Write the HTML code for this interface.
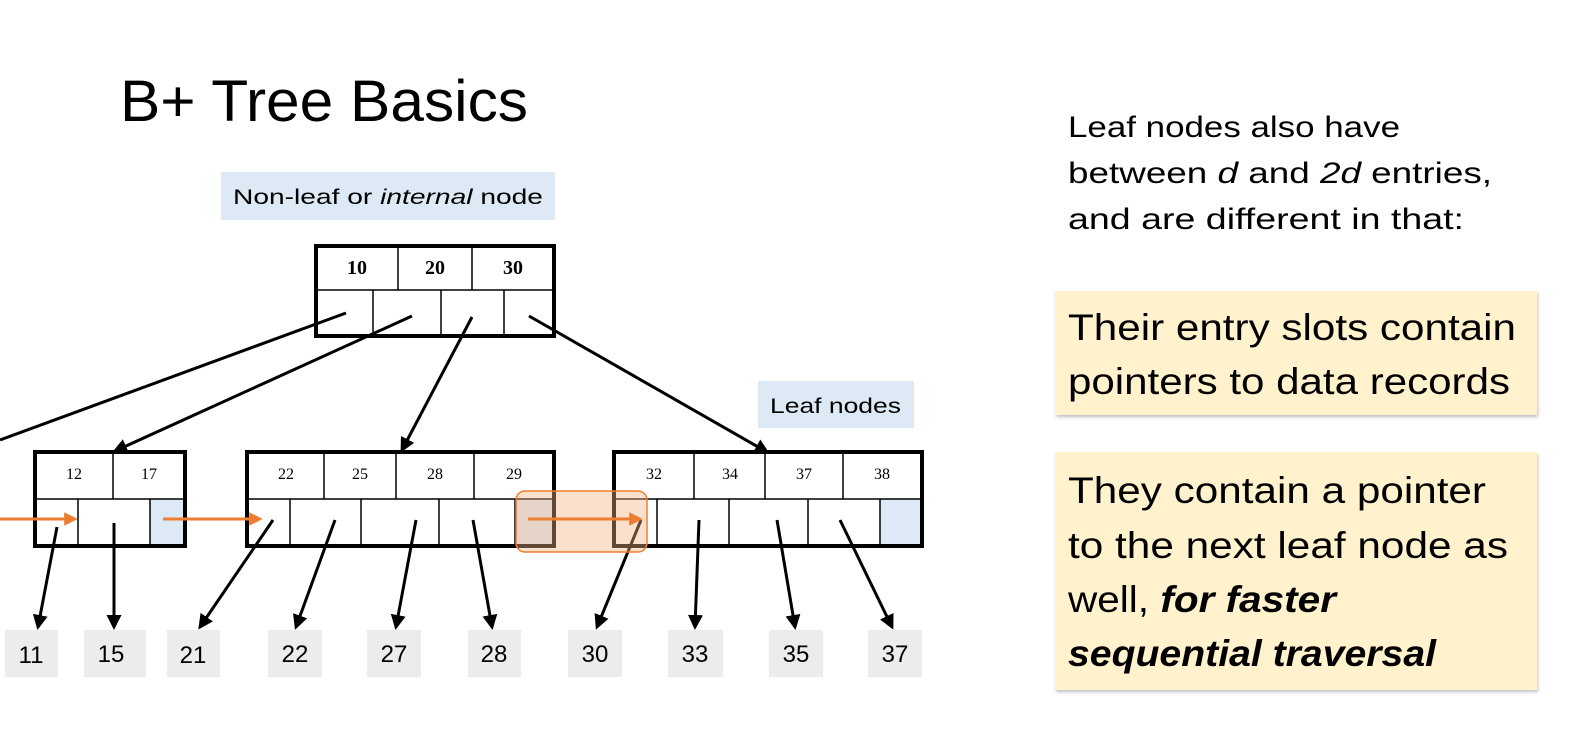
<!DOCTYPE html>
<html><head><meta charset="utf-8"><style>
html,body{margin:0;padding:0;background:#fff;}
svg{display:block;}
</style></head><body>
<svg width="1576" height="756" viewBox="0 0 1576 756" xmlns="http://www.w3.org/2000/svg">
<defs>
<marker id="ah" viewBox="0 0 10 10" refX="8" refY="5" markerWidth="5" markerHeight="5" orient="auto"><path d="M0,0 L10,5 L0,10 z" fill="#000"/></marker>
<marker id="oh" viewBox="0 0 10 10" refX="8" refY="5" markerWidth="4.5" markerHeight="4.5" orient="auto"><path d="M0,0 L10,5 L0,10 z" fill="#ed7d31"/></marker>
<filter id="sh" x="-5%" y="-5%" width="110%" height="115%"><feDropShadow dx="1" dy="2" stdDeviation="1.5" flood-color="#000" flood-opacity="0.25"/></filter>
</defs>
<text x="120" y="121" font-family="Liberation Sans, sans-serif" font-size="58" textLength="408" lengthAdjust="spacingAndGlyphs">B+ Tree Basics</text>

<rect x="221" y="172" width="334" height="48" fill="#dde9f5"/>
<text x="233" y="204" font-family="Liberation Sans, sans-serif" font-size="21" textLength="310" lengthAdjust="spacingAndGlyphs">Non-leaf or <tspan font-style="italic">internal</tspan> node</text>
<rect x="758" y="381" width="156" height="47" fill="#dde9f5"/>
<text x="770" y="413" font-family="Liberation Sans, sans-serif" font-size="21" textLength="131" lengthAdjust="spacingAndGlyphs">Leaf nodes</text>

<g stroke="#000" fill="none">
<!-- root -->
<rect x="316" y="246" width="238" height="90" stroke-width="4" fill="#fff"/>
<line x1="316" y1="290" x2="554" y2="290" stroke-width="1.5"/>
<line x1="398" y1="246" x2="398" y2="290" stroke-width="1.5"/>
<line x1="472" y1="246" x2="472" y2="290" stroke-width="1.5"/>
<line x1="373" y1="290" x2="373" y2="336" stroke-width="1.5"/>
<line x1="441" y1="290" x2="441" y2="336" stroke-width="1.5"/>
<line x1="504" y1="290" x2="504" y2="336" stroke-width="1.5"/>
</g>
<g font-family="Liberation Serif, serif" font-size="20" font-weight="bold" text-anchor="middle">
<text x="357" y="274">10</text><text x="435" y="274">20</text><text x="513" y="274">30</text>
</g>

<!-- leaf 1 -->
<rect x="150" y="499" width="35" height="47" fill="#dde9f5"/>
<rect x="515" y="499" width="39" height="47" fill="#dde9f5"/>
<rect x="880" y="499" width="42" height="47" fill="#dde9f5"/>
<g stroke="#000" fill="none">
<rect x="35" y="452" width="150" height="94" stroke-width="4"/>
<line x1="35" y1="499" x2="185" y2="499" stroke-width="1.5"/>
<line x1="113" y1="452" x2="113" y2="499" stroke-width="1.5"/>
<line x1="78" y1="499" x2="78" y2="546" stroke-width="1.5"/>
<line x1="150" y1="499" x2="150" y2="546" stroke-width="1.5"/>
<rect x="247" y="452" width="307" height="94" stroke-width="4"/>
<line x1="247" y1="499" x2="554" y2="499" stroke-width="1.5"/>
<line x1="324" y1="452" x2="324" y2="499" stroke-width="1.5"/>
<line x1="396" y1="452" x2="396" y2="499" stroke-width="1.5"/>
<line x1="474" y1="452" x2="474" y2="499" stroke-width="1.5"/>
<line x1="290" y1="499" x2="290" y2="546" stroke-width="1.5"/>
<line x1="361" y1="499" x2="361" y2="546" stroke-width="1.5"/>
<line x1="439" y1="499" x2="439" y2="546" stroke-width="1.5"/>
<line x1="515" y1="499" x2="515" y2="546" stroke-width="1.5"/>
<rect x="614" y="452" width="308" height="94" stroke-width="4"/>
<line x1="614" y1="499" x2="922" y2="499" stroke-width="1.5"/>
<line x1="694" y1="452" x2="694" y2="499" stroke-width="1.5"/>
<line x1="765" y1="452" x2="765" y2="499" stroke-width="1.5"/>
<line x1="843" y1="452" x2="843" y2="499" stroke-width="1.5"/>
<line x1="657" y1="499" x2="657" y2="546" stroke-width="1.5"/>
<line x1="729" y1="499" x2="729" y2="546" stroke-width="1.5"/>
<line x1="808" y1="499" x2="808" y2="546" stroke-width="1.5"/>
<line x1="880" y1="499" x2="880" y2="546" stroke-width="1.5"/>
</g>
<g font-family="Liberation Serif, serif" font-size="16" text-anchor="middle">
<text x="74" y="479">12</text><text x="149" y="479">17</text>
<text x="286" y="479">22</text><text x="360" y="479">25</text><text x="435" y="479">28</text><text x="514" y="479">29</text>
<text x="654" y="479">32</text><text x="730" y="479">34</text><text x="804" y="479">37</text><text x="882" y="479">38</text>
</g>

<!-- data boxes -->
<g fill="#ececec">
<rect x="5" y="630" width="53" height="47"/><rect x="84" y="630" width="62" height="47"/>
<rect x="167" y="630" width="53" height="47"/><rect x="268" y="630" width="54" height="47"/>
<rect x="367" y="630" width="54" height="47"/><rect x="468" y="630" width="53" height="47"/>
<rect x="568" y="630" width="54" height="47"/><rect x="668" y="630" width="55" height="47"/>
<rect x="769" y="630" width="54" height="47"/><rect x="868" y="630" width="54" height="47"/>
</g>
<g font-family="Liberation Sans, sans-serif" font-size="24" text-anchor="middle">
<text x="31" y="663">11</text><text x="111" y="662">15</text><text x="193" y="663">21</text><text x="295" y="662">22</text>
<text x="394" y="662">27</text><text x="494" y="662">28</text><text x="595" y="662">30</text><text x="695" y="662">33</text>
<text x="796" y="662">35</text><text x="895" y="662">37</text>
</g>

<!-- connectors -->
<g stroke="#000" stroke-width="3" fill="none">
<line x1="346" y1="313" x2="0" y2="440"/>
<line x1="412" y1="316" x2="115" y2="451" marker-end="url(#ah)"/>
<line x1="472" y1="317" x2="402" y2="450" marker-end="url(#ah)"/>
<line x1="529" y1="316" x2="767" y2="452" marker-end="url(#ah)"/>
<line x1="57" y1="527" x2="38" y2="627" marker-end="url(#ah)"/>
<line x1="114" y1="523" x2="114" y2="627" marker-end="url(#ah)"/>
<line x1="273" y1="520" x2="200" y2="627" marker-end="url(#ah)"/>
<line x1="335" y1="520" x2="296" y2="627" marker-end="url(#ah)"/>
<line x1="416" y1="520" x2="396" y2="627" marker-end="url(#ah)"/>
<line x1="473" y1="520" x2="492" y2="627" marker-end="url(#ah)"/>
<line x1="641" y1="520" x2="597" y2="627" marker-end="url(#ah)"/>
<line x1="699" y1="520" x2="695" y2="627" marker-end="url(#ah)"/>
<line x1="777" y1="520" x2="795" y2="627" marker-end="url(#ah)"/>
<line x1="840" y1="520" x2="892" y2="627" marker-end="url(#ah)"/>
</g>
<rect x="516" y="491" width="131" height="61" rx="9" fill="#f4b183" fill-opacity="0.4" stroke="#ed7d31" stroke-width="1.5"/>
<g stroke="#ed7d31" stroke-width="3">
<line x1="0" y1="519" x2="75" y2="519" marker-end="url(#oh)"/>
<line x1="163" y1="519" x2="260" y2="519" marker-end="url(#oh)"/>
<line x1="528" y1="519" x2="640" y2="519" marker-end="url(#oh)"/>
</g>

<!-- right text -->
<g font-family="Liberation Sans, sans-serif" font-size="30">
<text x="1068" y="137" textLength="332" lengthAdjust="spacingAndGlyphs">Leaf nodes also have</text>
<text x="1068" y="183" textLength="424" lengthAdjust="spacingAndGlyphs">between <tspan font-style="italic">d</tspan> and <tspan font-style="italic">2d</tspan> entries,</text>
<text x="1068" y="229" textLength="396" lengthAdjust="spacingAndGlyphs">and are different in that:</text>
</g>
<rect x="1055" y="291" width="482" height="124" fill="#fff2cc" filter="url(#sh)"/>
<rect x="1055" y="452" width="482" height="238" fill="#fff2cc" filter="url(#sh)"/>
<g font-family="Liberation Sans, sans-serif" font-size="37">
<text x="1068" y="340" textLength="448" lengthAdjust="spacingAndGlyphs">Their entry slots contain</text>
<text x="1068" y="394" textLength="442" lengthAdjust="spacingAndGlyphs">pointers to data records</text>
<text x="1068" y="503" textLength="418" lengthAdjust="spacingAndGlyphs">They contain a pointer</text>
<text x="1068" y="558" textLength="440" lengthAdjust="spacingAndGlyphs">to the next leaf node as</text>
<text x="1068" y="612" textLength="268" lengthAdjust="spacingAndGlyphs">well, <tspan font-style="italic" font-weight="bold">for faster</tspan></text>
<text x="1068" y="666" textLength="368" lengthAdjust="spacingAndGlyphs" font-style="italic" font-weight="bold">sequential traversal</text>
</g>
</svg>
</body></html>
